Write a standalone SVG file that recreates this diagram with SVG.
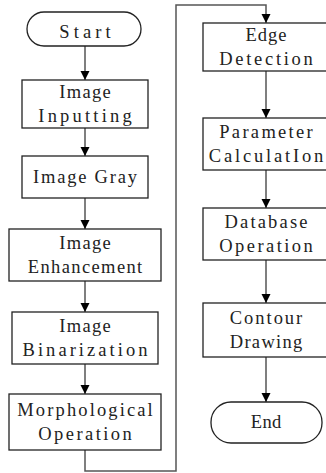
<svg xmlns="http://www.w3.org/2000/svg" width="326" height="473" viewBox="0 0 326 473">
<style>
.box{fill:#fff;stroke:#222;stroke-width:1.3}
.t{font-family:"Liberation Serif","Times New Roman",serif;font-size:18.5px;fill:#222;text-anchor:middle}
.c{fill:none;stroke:#555;stroke-width:1.5}
</style>
<defs>
<marker id="ah" markerUnits="userSpaceOnUse" markerWidth="10" markerHeight="10" refX="9" refY="4.5" orient="auto">
<path d="M0,0 L9,4.5 L0,9 z" fill="#000"/>
</marker>
</defs>
<rect width="326" height="473" fill="#fff"/>
<g id="connectors">
<line class="c" x1="85" y1="46" x2="85" y2="80" marker-end="url(#ah)"/>
<line class="c" x1="85" y1="128" x2="85" y2="156" marker-end="url(#ah)"/>
<line class="c" x1="85" y1="198" x2="85" y2="229" marker-end="url(#ah)"/>
<line class="c" x1="85" y1="281" x2="85" y2="312" marker-end="url(#ah)"/>
<line class="c" x1="85" y1="364" x2="85" y2="394" marker-end="url(#ah)"/>
<polyline class="c" points="85,450 85,471 176,471 176,5 266,5 266,23" marker-end="url(#ah)"/>
<line class="c" x1="266" y1="71" x2="266" y2="118" marker-end="url(#ah)"/>
<line class="c" x1="266" y1="170" x2="266" y2="208" marker-end="url(#ah)"/>
<line class="c" x1="266" y1="260" x2="266" y2="303" marker-end="url(#ah)"/>
<line class="c" x1="266" y1="357" x2="266" y2="402" marker-end="url(#ah)"/>
</g>
<g id="start"><rect class="box" x="27" y="12" width="114" height="34" rx="17"/><text class="t" x="85" y="38" textLength="51.5" lengthAdjust="spacing">Start</text></g>
<g id="input"><rect class="box" x="22" y="80" width="126" height="48"/><text class="t" x="85" y="98" textLength="51.5" lengthAdjust="spacing">Image</text><text class="t" x="85" y="122" textLength="93.5" lengthAdjust="spacing">Inputting</text></g>
<g id="gray"><rect class="box" x="22" y="156" width="126" height="42"/><text class="t" x="85" y="183" textLength="104" lengthAdjust="spacing">Image Gray</text></g>
<g id="enh"><rect class="box" x="9" y="229" width="152" height="52"/><text class="t" x="85" y="249" textLength="51.5" lengthAdjust="spacing">Image</text><text class="t" x="85" y="273" textLength="114.5" lengthAdjust="spacing">Enhancement</text></g>
<g id="bin"><rect class="box" x="12" y="312" width="146" height="52"/><text class="t" x="85" y="332" textLength="51.5" lengthAdjust="spacing">Image</text><text class="t" x="85" y="356" textLength="125" lengthAdjust="spacing">Binarization</text></g>
<g id="morph"><rect class="box" x="9" y="394" width="152" height="56"/><text class="t" x="85" y="416" textLength="135.5" lengthAdjust="spacing">Morphological</text><text class="t" x="85" y="440" textLength="93.5" lengthAdjust="spacing">Operation</text></g>
<g id="edge"><rect class="box" x="203" y="23" width="126" height="48"/><text class="t" x="266" y="41" textLength="41" lengthAdjust="spacing">Edge</text><text class="t" x="266" y="65" textLength="93.5" lengthAdjust="spacing">Detection</text></g>
<g id="param"><rect class="box" x="203" y="118" width="126" height="52"/><text class="t" x="266" y="138" textLength="93.5" lengthAdjust="spacing">Parameter</text><text class="t" x="266" y="162" textLength="114.5" lengthAdjust="spacing">CalculatIon</text></g>
<g id="db"><rect class="box" x="203" y="208" width="126" height="52"/><text class="t" x="266" y="228" textLength="83" lengthAdjust="spacing">Database</text><text class="t" x="266" y="252" textLength="93.5" lengthAdjust="spacing">Operation</text></g>
<g id="contour"><rect class="box" x="203" y="303" width="126" height="54"/><text class="t" x="266" y="324" textLength="72.5" lengthAdjust="spacing">Contour</text><text class="t" x="266" y="348" textLength="72.5" lengthAdjust="spacing">Drawing</text></g>
<g id="end"><rect class="box" x="211" y="402" width="111" height="41" rx="20"/><text class="t" x="266" y="428" textLength="30.5" lengthAdjust="spacing">End</text></g>
</svg>
